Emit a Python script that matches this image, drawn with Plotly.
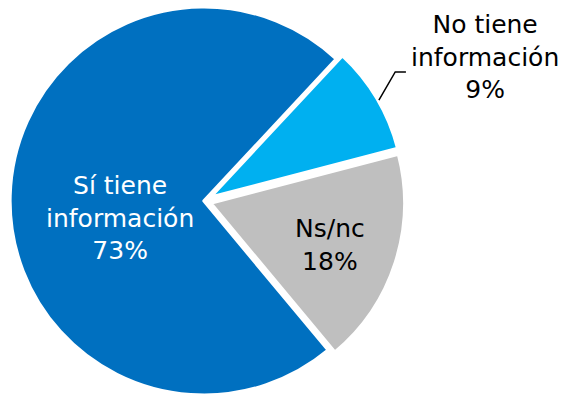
"""Pie chart: ¿Tiene información? (Sí / No / Ns-nc)."""

import plotly.graph_objects as go

# Data
labels = ['No tiene<br>información', 'Ns/nc', 'Sí tiene<br>información']
values = [9, 18, 73]
colors = ['#00B0F0', '#BFBFBF', '#0070C0']
text_colors = ['black', 'black', 'white']
pulls = [0.035, 0.035, 0]

# label anchor spots (paper coords) - pie's own inside placement sits too high
label_pos = [(0.8615, 0.979, 'top'), (0.586, 0.391, 'middle'), (0.213, 0.458, 'middle')]

FONT = 'DejaVu Sans'

fig = go.Figure()
fig.add_trace(go.Pie(
    labels=labels,
    values=values,
    textinfo='none',
    marker=dict(colors=colors, line=dict(color='white', width=3.5)),
    pull=pulls,
    sort=False,
    direction='clockwise',
    rotation=43,
    domain=dict(x=[0, 0.725], y=[0, 1]),
    showlegend=False,
    hoverinfo='label+percent',
))

for lab, val, col, (x, y, ya) in zip(labels, values, text_colors, label_pos):
    fig.add_annotation(
        x=x, y=y, xref='paper', yref='paper',
        text=f'{lab}<br>{val}%',
        showarrow=False,
        font=dict(family=FONT, size=25, color=col),
        align='center',
        xanchor='center', yanchor=ya,
    )

# leader line for the small slice's callout
fig.add_shape(
    type='path', xref='paper', yref='paper',
    path='M 0.673 0.751 L 0.702 0.821 L 0.721 0.821',
    line=dict(color='black', width=1.5),
)

fig.update_layout(
    width=563,
    height=402,
    margin=dict(l=0, r=0, t=0, b=0),
    paper_bgcolor='white',
    plot_bgcolor='white',
)

# drop the browser's default body margin so the figure sits at the page corner
fig.write_html('out.html', config={'displayModeBar': False},
               post_script="document.body.style.margin='0';")
